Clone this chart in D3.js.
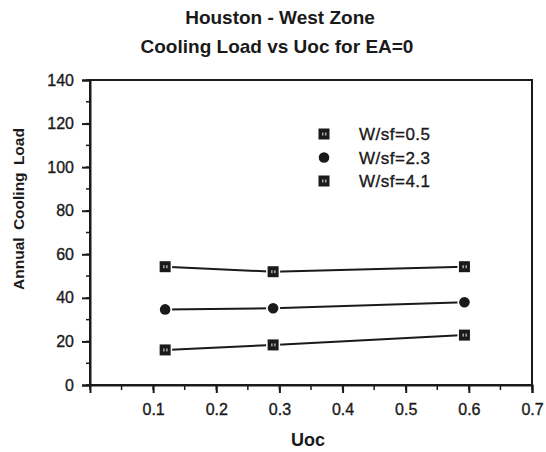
<!DOCTYPE html>
<html>
<head>
<meta charset="utf-8">
<script src="https://cdn.jsdelivr.net/npm/d3@7"></script>
<style>
  body { margin: 0; background: #fff; }
  text { font-family: "Liberation Sans", Arial, sans-serif; fill: #1a1a1a; }
</style>
</head>
<body>
<svg class="chart"></svg>
<script>
// data
var uoc = [0.119, 0.29, 0.593];
var seriesNames = ['W/sf=0.5', 'W/sf=2.3', 'W/sf=4.1'];
var load05 = [16.1, 18.4, 22.9];
var load23 = [34.7, 35.2, 38];
var load41 = [54.3, 52, 54.3];
var xTicks = [0.1, 0.2, 0.3, 0.4, 0.5, 0.6, 0.7];
var yTicks = [0, 20, 40, 60, 80, 100, 120, 140];

var series = [
  {name: seriesNames[0], values: load05, shape: 'square'},
  {name: seriesNames[1], values: load23, shape: 'circle'},
  {name: seriesNames[2], values: load41, shape: 'square'}
];

var svgWidth = 546, svgHeight = 452;
var margin = {top: 80, right: 14, bottom: 67, left: 90};
var width = svgWidth - margin.left - margin.right,
    height = svgHeight - margin.top - margin.bottom;

var svg = d3.select('.chart')
  .attr('width', svgWidth)
  .attr('height', svgHeight);

var xScale = d3.scaleLinear().domain([0, 0.7]).range([0, width]);
var yScale = d3.scaleLinear().domain([0, 140]).range([height, 0]);

var g = svg.append('g')
  .attr('transform', 'translate(' + margin.left + ',' + margin.top + ')');

// frame
g.append('rect')
  .attr('width', width)
  .attr('height', height)
  .attr('fill', 'none')
  .attr('stroke', '#1a1a1a')
  .attr('stroke-width', 2);

// minor ticks
var xMinor = d3.range(0, 15).map(function(i) { return i * 0.05; });
g.selectAll('.xminor').data(xMinor).enter().append('line')
  .attr('x1', function(d) { return xScale(d); })
  .attr('x2', function(d) { return xScale(d); })
  .attr('y1', height)
  .attr('y2', height + 5)
  .attr('stroke', '#1a1a1a')
  .attr('stroke-width', 1.5);

var yMinor = d3.range(0, 15).map(function(i) { return i * 10; });
g.selectAll('.yminor').data(yMinor).enter().append('line')
  .attr('x1', -4)
  .attr('x2', 0)
  .attr('y1', function(d) { return yScale(d); })
  .attr('y2', function(d) { return yScale(d); })
  .attr('stroke', '#1a1a1a')
  .attr('stroke-width', 1.5);

// axes
var xAxis = d3.axisBottom(xScale).tickValues(xTicks).tickSize(8)
  .tickPadding(11).tickFormat(d3.format('.1f'));
var yAxis = d3.axisLeft(yScale).tickValues(yTicks).tickSize(8).tickPadding(8);

var gx = g.append('g')
  .attr('transform', 'translate(0,' + height + ')')
  .call(xAxis);
var gy = g.append('g').call(yAxis);

[gx, gy].forEach(function(a) {
  a.select('.domain').attr('stroke', '#1a1a1a').attr('stroke-width', 2);
  a.selectAll('.tick line').attr('stroke', '#1a1a1a').attr('stroke-width', 2);
  a.selectAll('.tick text')
    .attr('fill', '#1a1a1a')
    .attr('stroke', '#1a1a1a')
    .attr('stroke-width', 0.35)
    .style('font-family', '"Liberation Sans", Arial, sans-serif')
    .style('font-size', '16px');
});

// lines
var line = d3.line()
  .x(function(d, i) { return xScale(uoc[i]); })
  .y(function(d) { return yScale(d); });

g.selectAll('.series-line').data(series).enter().append('path')
  .attr('d', function(d) { return line(d.values); })
  .attr('fill', 'none')
  .attr('stroke', '#1a1a1a')
  .attr('stroke-width', 2);

function drawMarker(sel, shape) {
  if (shape === 'circle') {
    sel.append('circle').attr('r', 7).attr('fill', '#fff');
    sel.append('circle').attr('r', 5.3).attr('fill', '#1a1a1a');
  } else {
    sel.append('rect')
      .attr('x', -7).attr('y', -7)
      .attr('width', 14).attr('height', 14)
      .attr('fill', '#fff');
    sel.append('rect')
      .attr('x', -5.5).attr('y', -5.5)
      .attr('width', 11).attr('height', 11)
      .attr('fill', '#1a1a1a');
    sel.append('rect')
      .attr('x', -2).attr('y', -1.5)
      .attr('width', 1.5).attr('height', 3)
      .attr('fill', '#aaa');
    sel.append('rect')
      .attr('x', 1).attr('y', -1.5)
      .attr('width', 1.5).attr('height', 3)
      .attr('fill', '#aaa');
  }
}

series.forEach(function(s) {
  s.values.forEach(function(v, i) {
    var m = g.append('g')
      .attr('transform', 'translate(' + xScale(uoc[i]) + ',' + yScale(v) + ')');
    drawMarker(m, s.shape);
  });
});

// legend
var legend = svg.append('g').attr('transform', 'translate(324,134)');
series.forEach(function(s, i) {
  var row = legend.append('g').attr('transform', 'translate(0,' + (i * 23.5) + ')');
  drawMarker(row, s.shape);
  row.append('text')
    .attr('x', 35)
    .attr('y', 6)
    .attr('stroke', '#1a1a1a')
    .attr('stroke-width', 0.35)
    .style('font-size', '17px')
    .style('letter-spacing', '0.5px')
    .text(s.name);
});

// titles
svg.append('text')
  .attr('x', 280).attr('y', 24)
  .attr('text-anchor', 'middle')
  .style('font-size', '19px')
  .style('font-weight', 'bold')
  .text('Houston - West Zone');

svg.append('text')
  .attr('x', 277).attr('y', 53)
  .attr('text-anchor', 'middle')
  .style('font-size', '19px')
  .style('font-weight', 'bold')
  .text('Cooling Load vs Uoc for EA=0');

svg.append('text')
  .attr('x', 308)
  .attr('y', 446)
  .attr('text-anchor', 'middle')
  .style('font-size', '18px')
  .style('font-weight', 'bold')
  .text('Uoc');

svg.append('text')
  .attr('transform', 'translate(24,209) rotate(-90)')
  .attr('text-anchor', 'middle')
  .style('font-size', '15.5px')
  .style('font-weight', 'bold')
  .style('word-spacing', '3px')
  .text('Annual Cooling Load');
</script>
</body>
</html>
